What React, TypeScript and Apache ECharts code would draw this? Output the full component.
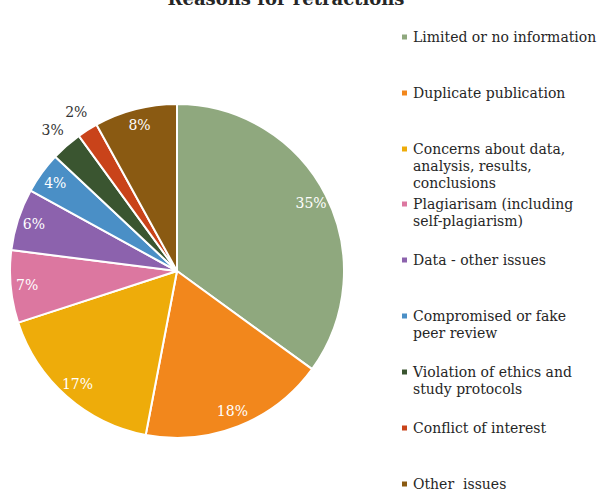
import React, { useEffect, useRef } from "react";
import * as echarts from "echarts";

const categories = [
  "Limited or no information",
  "Duplicate publication",
  "Concerns about data,\nanalysis, results,\nconclusions",
  "Plagiarisam (including\nself-plagiarism)",
  "Data - other issues",
  "Compromised or fake\npeer review",
  "Violation of ethics and\nstudy protocols",
  "Conflict of interest",
  "Other  issues",
];
const values = [35, 18, 17, 7, 6, 4, 3, 2, 8];
const colors = [
  "#8fa87e",
  "#f2871c",
  "#eeac0a",
  "#dc77a0",
  "#8c62ad",
  "#4a8fc6",
  "#3a5530",
  "#c9431a",
  "#8a5a12",
];
const outsideLabels = [false, false, false, false, false, false, true, true, false];
const legendFirstLineY = [37, 93, 149, 204, 260, 316, 372, 428, 484];

const FONT = "DejaVu Serif";

export default function App() {
  const ref = useRef<HTMLDivElement>(null);
  useEffect(() => {
    if (!ref.current) return;
    const chart = echarts.init(ref.current, null, { renderer: "svg" });
    const lh = 17;
    const legends = categories.map((name, i) => {
      const n = name.split("\n").length;
      return {
        data: [name],
        left: 400,
        top: legendFirstLineY[i] - ((2 * n - 1) * lh) / 2,
        padding: 0,
        icon: "rect",
        itemWidth: 7,
        itemHeight: 7,
        selectedMode: false,
        formatter: (nm: string) => "\n".repeat(n - 1) + nm,
        textStyle: {
          fontFamily: FONT,
          fontSize: 14,
          color: "#262626",
          lineHeight: lh,
        },
      };
    });
    const pieData = categories.map((name, i) => ({
      name,
      value: values[i],
      itemStyle: { color: colors[i] },
    }));
    const center = [177, 271];
    chart.setOption({
      animation: false,
      title: {
        text: "Reasons for retractions",
        left: 281,
        top: -16,
        textAlign: "center",
        textStyle: { fontFamily: FONT, fontSize: 18, fontWeight: "bold", color: "#262626" },
      },
      legend: legends,
      series: [
        {
          type: "pie",
          center,
          radius: [0, 167],
          startAngle: 90,
          clockwise: true,
          silent: true,
          label: { show: false },
          labelLine: { show: false },
          itemStyle: { borderColor: "#ffffff", borderWidth: 2 },
          data: pieData,
        },
        {
          type: "pie",
          center,
          radius: [128, 167],
          startAngle: 90,
          clockwise: true,
          silent: true,
          labelLine: { show: false },
          label: {
            position: "inside",
            formatter: "{c}%",
            fontFamily: FONT,
            fontSize: 14,
            color: "#ffffff",
          },
          data: categories.map((name, i) => ({
            name,
            value: values[i],
            itemStyle: { color: "rgba(0,0,0,0)" },
            label: { show: !outsideLabels[i] },
          })),
        },
        {
          type: "pie",
          center,
          radius: [170, 200],
          startAngle: 90,
          clockwise: true,
          silent: true,
          labelLine: { show: false },
          label: {
            position: "inside",
            formatter: "{c}%",
            fontFamily: FONT,
            fontSize: 14,
            color: "#333333",
          },
          data: categories.map((name, i) => ({
            name,
            value: values[i],
            itemStyle: { color: "rgba(0,0,0,0)" },
            label: { show: outsideLabels[i] },
          })),
        },
      ],
    });
    return () => chart.dispose();
  }, []);
  return (
    <div
      ref={ref}
      style={{ position: "fixed", left: 0, top: 0, width: 599, height: 491, background: "#ffffff" }}
    />
  );
}
